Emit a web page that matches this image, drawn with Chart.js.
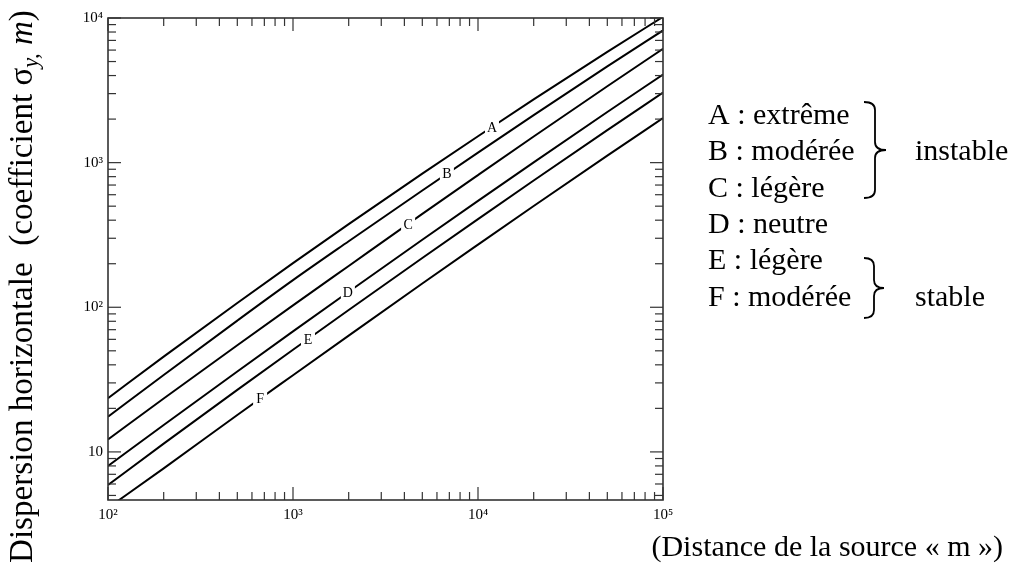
<!DOCTYPE html>
<html>
<head>
<meta charset="utf-8">
<script src="https://cdn.jsdelivr.net/npm/chart.js@4.4.1/dist/chart.umd.min.js"></script>
<style>
  html, body { margin: 0; padding: 0; background: #fff; }
  #wrap { position: relative; width: 1030px; height: 572px; }
</style>
</head>
<body>
<div id="wrap"><canvas id="c" width="1030" height="572"></canvas></div>
<script>
// distance from the source (m)
const distances = [100, 200, 500, 1000, 2000, 5000, 10000, 20000, 50000, 100000];
// horizontal dispersion sigma_y (m), one list per stability class
const sigmaA = [23.5, 45.6, 107, 202, 376, 839, 1522, 2735, 5834, 10178];
const sigmaB = [17.5, 34.0, 80.9, 154, 286, 642, 1174, 2133, 4628, 8201];
const sigmaC = [12.2, 23.4, 54.6, 103, 193, 442, 820, 1515, 3373, 6123];
const sigmaD = [8.0, 15.35, 36.0, 68.1, 128, 293, 544, 1005, 2240, 4069];
const sigmaE = [5.9, 11.4, 26.85, 50.9, 95.7, 219, 407, 752, 1678, 3048];
const sigmaF = [4.1, 7.7, 18.0, 33.9, 63.7, 146, 271, 501, 1118, 2031];

const classNames = ['A', 'B', 'C', 'D', 'E', 'F'];
// where the class letter sits on each curve
const letterX = [11900, 6790, 4190, 1980, 1205, 664];
const letterY = [1764, 838, 377, 127, 60, 23.3];

const xDecades = [100, 1000, 10000, 100000];
const xDecadeLabels = ['10²', '10³', '10⁴', '10⁵'];
const yDecades = [10, 100, 1000, 10000];
const yDecadeLabels = ['10', '10²', '10³', '10⁴'];

const legendLines = ['A : extrême', 'B : modérée', 'C : légère', 'D : neutre', 'E : légère', 'F : modérée'];

const SERIF = "'Liberation Serif', 'Times New Roman', serif";
const X_MIN = 100, X_MAX = 100000, Y_MIN = 4.65, Y_MAX = 10000;

// minor tick positions 2..9 within each decade
const mult = [1, 2, 3, 4, 5, 6, 7, 8, 9];
const xTicks = [];
[100, 1000, 10000].forEach(d => mult.forEach(k => xTicks.push(d * k)));
xTicks.push(100000);
const yTicks = [];
[1, 10, 100, 1000].forEach(d => mult.forEach(k => { if (d * k >= Y_MIN) yTicks.push(d * k); }));
yTicks.push(10000);

const allSeries = [sigmaA, sigmaB, sigmaC, sigmaD, sigmaE, sigmaF];

function brace(ctx, x, top, bot, w) {
  const mid = (top + bot) / 2, r = Math.min(8, (bot - top) / 6), xm = x + w / 2;
  ctx.beginPath();
  ctx.moveTo(x, top);
  ctx.quadraticCurveTo(xm, top, xm, top + r);
  ctx.lineTo(xm, mid - r);
  ctx.quadraticCurveTo(xm, mid, x + w, mid);
  ctx.quadraticCurveTo(xm, mid, xm, mid + r);
  ctx.lineTo(xm, bot - r);
  ctx.quadraticCurveTo(xm, bot, x, bot);
  ctx.stroke();
}

function drawYTitle(ctx) {
  const parts = [
    { t: 'Dispersion horizontale  (coefficient σ', s: 1, it: false, dy: 0 },
    { t: 'y,', s: 0.68, it: true, dy: 6 },
    { t: ' ', s: 1, it: false, dy: 0 },
    { t: 'm', s: 1, it: true, dy: 0 },
    { t: ')', s: 1, it: false, dy: 0 }
  ];
  const span = 553;
  const font = (p, size) => `${p.it ? 'italic ' : ''}${size * p.s}px ${SERIF}`;
  let w = 0;
  parts.forEach(p => { ctx.font = font(p, 26); w += ctx.measureText(p.t).width; });
  const size = 26 * span / w;
  ctx.save();
  ctx.translate(32, 563);
  ctx.rotate(-Math.PI / 2);
  ctx.fillStyle = '#000';
  ctx.textBaseline = 'alphabetic';
  ctx.textAlign = 'left';
  let cx = 0;
  parts.forEach(p => {
    ctx.font = font(p, size);
    ctx.fillText(p.t, cx, p.dy);
    cx += ctx.measureText(p.t).width;
  });
  ctx.restore();
}

const decorPlugin = {
  id: 'decor',
  afterDraw(chart) {
    const { ctx, chartArea: a, scales: { x, y } } = chart;
    ctx.save();
    ctx.strokeStyle = '#333';
    ctx.lineWidth = 1.2;
    const seg = (x1, y1, x2, y2) => { ctx.beginPath(); ctx.moveTo(x1, y1); ctx.lineTo(x2, y2); ctx.stroke(); };
    xTicks.forEach(v => {
      const px = x.getPixelForValue(v);
      const len = xDecades.includes(v) ? 13 : 8;
      seg(px, a.top, px, a.top + len);
      seg(px, a.bottom, px, a.bottom - len);
    });
    yTicks.forEach(v => {
      const py = y.getPixelForValue(v);
      const len = yDecades.includes(v) ? 13 : 8;
      seg(a.left, py, a.left + len, py);
      seg(a.right, py, a.right - len, py);
    });
    ctx.lineWidth = 1.6;
    ctx.strokeRect(a.left, a.top, a.right - a.left, a.bottom - a.top);

    // class letters on the curves
    ctx.font = `14px ${SERIF}`;
    ctx.textAlign = 'center';
    ctx.textBaseline = 'middle';
    classNames.forEach((n, i) => {
      const px = x.getPixelForValue(letterX[i]);
      const py = y.getPixelForValue(letterY[i]);
      ctx.fillStyle = '#fff';
      ctx.fillRect(px - 7, py - 8, 14, 16);
      ctx.fillStyle = '#000';
      ctx.fillText(n, px, py + 1);
    });

    // right-hand key
    ctx.font = `30px ${SERIF}`;
    ctx.textAlign = 'left';
    ctx.textBaseline = 'middle';
    legendLines.forEach((t, i) => ctx.fillText(t, 708, 116 + i * 36.4));
    ctx.fillText('instable', 915, 152);
    ctx.fillText('stable', 915, 298);
    ctx.strokeStyle = '#000';
    ctx.lineWidth = 1.8;
    brace(ctx, 864, 102, 198, 22);
    brace(ctx, 864, 258, 318, 20);

    // x title
    ctx.font = `30px ${SERIF}`;
    ctx.textAlign = 'right';
    ctx.textBaseline = 'middle';
    ctx.fillText('(Distance de la source « m »)', 1003, 548);

    drawYTitle(ctx);
    ctx.restore();
  }
};

const datasets = allSeries.map((s, i) => ({
  label: classNames[i],
  data: distances.map((d, j) => ({ x: d, y: s[j] })),
  borderColor: '#000',
  borderWidth: 2,
  pointRadius: 0,
  fill: false,
  cubicInterpolationMode: 'monotone'
}));

const tickFont = { family: SERIF, size: 15 };

new Chart(document.getElementById('c').getContext('2d'), {
  type: 'line',
  data: { datasets },
  options: {
    responsive: false,
    animation: false,
    layout: { padding: { top: 18, right: 367, left: 0, bottom: 0 } },
    plugins: { legend: { display: false }, tooltip: { enabled: false } },
    scales: {
      x: {
        type: 'logarithmic',
        min: X_MIN, max: X_MAX,
        afterBuildTicks: s => { s.ticks = xTicks.map(v => ({ value: v })); },
        afterFit: s => { s.height = 72; },
        grid: { display: false, drawTicks: false },
        border: { display: false },
        ticks: {
          autoSkip: false, maxRotation: 0, color: '#000', font: tickFont, padding: 6,
          callback: v => { const i = xDecades.indexOf(v); return i >= 0 ? xDecadeLabels[i] : ''; }
        }
      },
      y: {
        type: 'logarithmic',
        min: Y_MIN, max: Y_MAX,
        afterBuildTicks: s => { s.ticks = yTicks.map(v => ({ value: v })); },
        afterFit: s => { s.width = 108; },
        grid: { display: false, drawTicks: false },
        border: { display: false },
        ticks: {
          autoSkip: false, color: '#000', font: tickFont, padding: 5,
          callback: v => { const i = yDecades.indexOf(v); return i >= 0 ? yDecadeLabels[i] : ''; }
        }
      }
    }
  },
  plugins: [decorPlugin]
});
</script>
</body>
</html>
